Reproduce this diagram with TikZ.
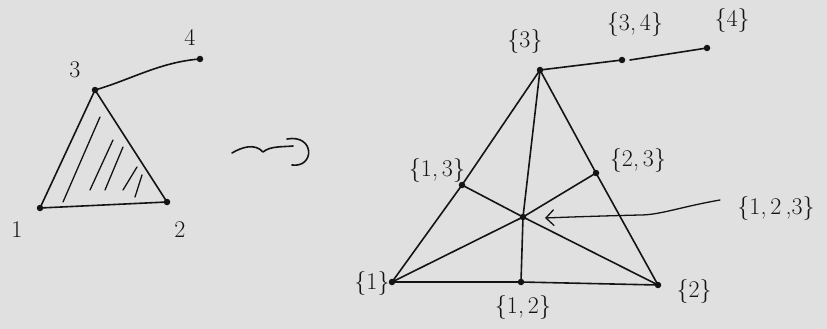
\documentclass[tikz,border=0pt]{standalone}
\usetikzlibrary{arrows.meta}
\definecolor{bg}{HTML}{E0E0E0}
\definecolor{ink}{HTML}{141414}
\begin{document}
\begin{tikzpicture}[x=1pt,y=-1pt,
  pen/.style={draw=ink,line width=1.6pt,line cap=round,line join=round},
  thin pen/.style={draw=ink,line width=1.3pt,line cap=round},
  vtx/.style={circle,fill=ink,inner sep=0pt,minimum size=6.5pt},
  lbl/.style={text=ink,font=\fontsize{24}{24}\selectfont,inner sep=1pt}]
\fill[bg] (0,0) rectangle (827,329);
\useasboundingbox (0,0) rectangle (827,329);

% ---------- left simplicial complex ----------
\node[vtx] (a1) at (40,208) {};
\node[vtx] (a2) at (167,202) {};
\node[vtx] (a3) at (95,90) {};
\node[vtx] (a4) at (200,59) {};
\draw[pen] (a1.center) -- (a2.center) -- (a3.center) -- cycle;
\draw[pen] (a3.center) .. controls (130,80) and (160,62) .. (a4.center);
% hatching
\draw[thin pen] (100,117) -- (63,202);
\draw[thin pen] (113,140) -- (90,190);
\draw[thin pen] (123,147) -- (105,190);
\draw[thin pen] (137,167) -- (123,190);
\draw[thin pen] (142,175) -- (135,197);
\node[lbl] (l1) at (17,230) {1};
\node[lbl] (l2) at (180,230) {2};
\node[lbl] (l3) at (75,70) {3};
\node[lbl] (l4) at (190,37) {4};

% ---------- squiggle arrow ----------
\coordinate (s0) at (232,153);
\coordinate (s1) at (263,152);
\coordinate (s2) at (293,146);
\draw[pen] (s0) .. controls (242,147) and (255,143) .. (s1)
  .. controls (270,146) and (282,147) .. (s2);
\draw[pen] (287,139) .. controls (315,134) and (315,168) .. (292,165);

% ---------- barycentric subdivision ----------
\node[vtx] (b1) at (392,282) {};
\node[vtx] (b2) at (658,285) {};
\node[vtx] (b3) at (540,70) {};
\node[vtx] (b12) at (521,282) {};
\node[vtx] (b13) at (462,185) {};
\node[vtx] (b23) at (596,173) {};
\node[vtx] (b123) at (523,217) {};
\node[vtx] (b34) at (622,60) {};
\node[vtx] (b4) at (707,48) {};
\draw[pen] (b1.center) -- (b12.center) -- (b2.center);
\draw[pen] (b1.center) -- (b13.center) -- (b3.center);
\draw[pen] (b2.center) -- (b23.center) -- (b3.center);
\draw[pen] (b1.center) -- (b123.center) -- (b23.center);
\draw[pen] (b2.center) -- (b123.center) -- (b13.center);
\draw[pen] (b3.center) -- (b123.center) -- (b12.center);
\draw[pen] (b3.center) -- (b34.center);
\coordinate (g) at (630,60);
\draw[pen] (g) -- (b4.center);

\node[lbl] (t1) at (372,283) {\{1\}};
\node[lbl] (t2) at (694,291) {\{2\}};
\node[lbl] (t3) at (525,42) {\{3\}};
\node[lbl] (t4) at (732,21) {\{4\}};
\node[lbl] (t12) at (523,307) {\{1,\,2\}};
\node[lbl] (t13) at (437,170) {\{1,\,3\}};
\node[lbl] (t23) at (638,160) {\{2,\,3\}};
\node[lbl] (t34) at (635,25) {\{3,\,4\}};
\node[lbl] (t123) at (776,208) {\{1,\,2\,,3\}};

\coordinate (arrS) at (720,200);
\coordinate (arrE) at (545,218);
\draw[thin pen,-{Straight Barb[length=8pt,width=16pt,line width=1.3pt]}]
  (arrS) .. controls (680,207) and (660,215) .. (640,215)
  .. controls (600,216) and (570,217) .. (arrE);
\end{tikzpicture}
\end{document}
